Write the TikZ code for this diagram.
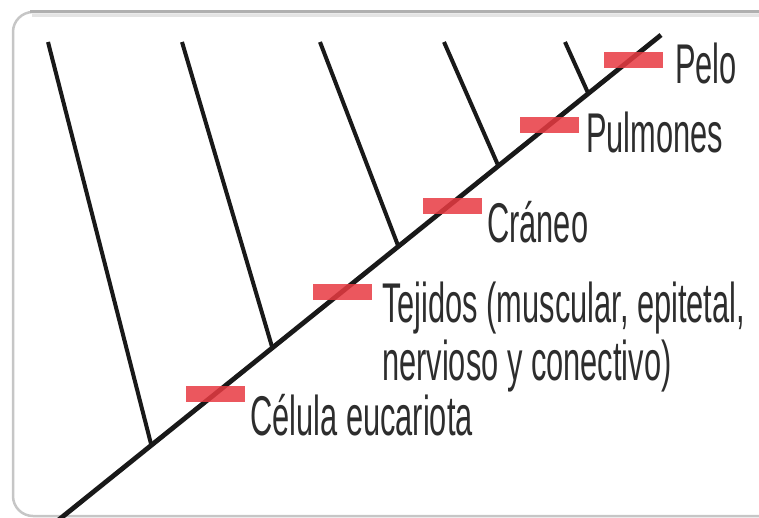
\documentclass[tikz,border=0pt]{standalone}
\usepackage{fontspec}
\setmainfont{Liberation Sans}[FakeStretch=0.55]
\usetikzlibrary{calc,positioning}
\definecolor{mybar}{RGB}{232,58,66}
\definecolor{myline}{RGB}{25,25,25}
\definecolor{mytext}{RGB}{45,45,45}
\definecolor{myframe}{RGB}{198,198,198}
\definecolor{mytop}{RGB}{176,176,176}
\definecolor{myshade}{RGB}{228,228,228}

\begin{document}
\begin{tikzpicture}[
  x=1pt, y=-1pt,
  stem/.style={
    draw=myline,
    line width=4pt
    },
  trait/.style={
    fill=mybar,
    fill opacity=0.85,
    minimum width=59pt,
    minimum height=16pt,
    inner sep=0pt
    },
  tag/.style={
    anchor=base west,
    text=mytext,
    inner sep=0pt,
    align=left,
    font=\fontsize{56}{58}\selectfont
  }
]
\useasboundingbox (0,0) rectangle (759,517);

% frame
\draw[myframe, line width=2.5pt, rounded corners=20pt] (762,12) -- (13,12) -- (13,516) -- (762,516);
\draw[myshade, line width=3.5pt] (32,15.5) -- (762,15.5);
\draw[mytop, line width=2.5pt] (30,11.5) -- (762,11.5);

% main stem
\coordinate (root) at (56,522);
\coordinate (tip) at (661,35);
\draw[stem, line width=4.8pt] (root) -- (tip);

% side branches
\foreach \lx/\jx [count=\i] in {48/151, 182/272, 320/398, 444/498, 565/588}
{
  \coordinate (leaf\i) at (\lx,42);
  \coordinate (fork\i) at (\jx,{517-0.8033*(\jx-60)});
  \draw[stem] (leaf\i) -- (fork\i);
}

% traits
\node[trait] (celulabar) at (215.5,393.5) {};
\node[trait] (tejidosbar) at (342,292) {};
\node[trait] (craneobar) at (452,206) {};
\node[trait] (pulmonesbar) at (549,125) {};
\node[trait] (pelobar) at (633,60) {};

\node[tag] (celula) at (250,435) {Célula eucariota};
\node[tag] (tejidos) at (382,380) {Tejidos (muscular, epitetal,\\nervioso y conectivo)};
\node[tag] (craneo) at (487,242) {Cráneo};
\node[tag] (pulmones) at (586,152) {Pulmones};
\node[tag] (pelo) at (675,83) {Pelo};

\end{tikzpicture}
\end{document}
